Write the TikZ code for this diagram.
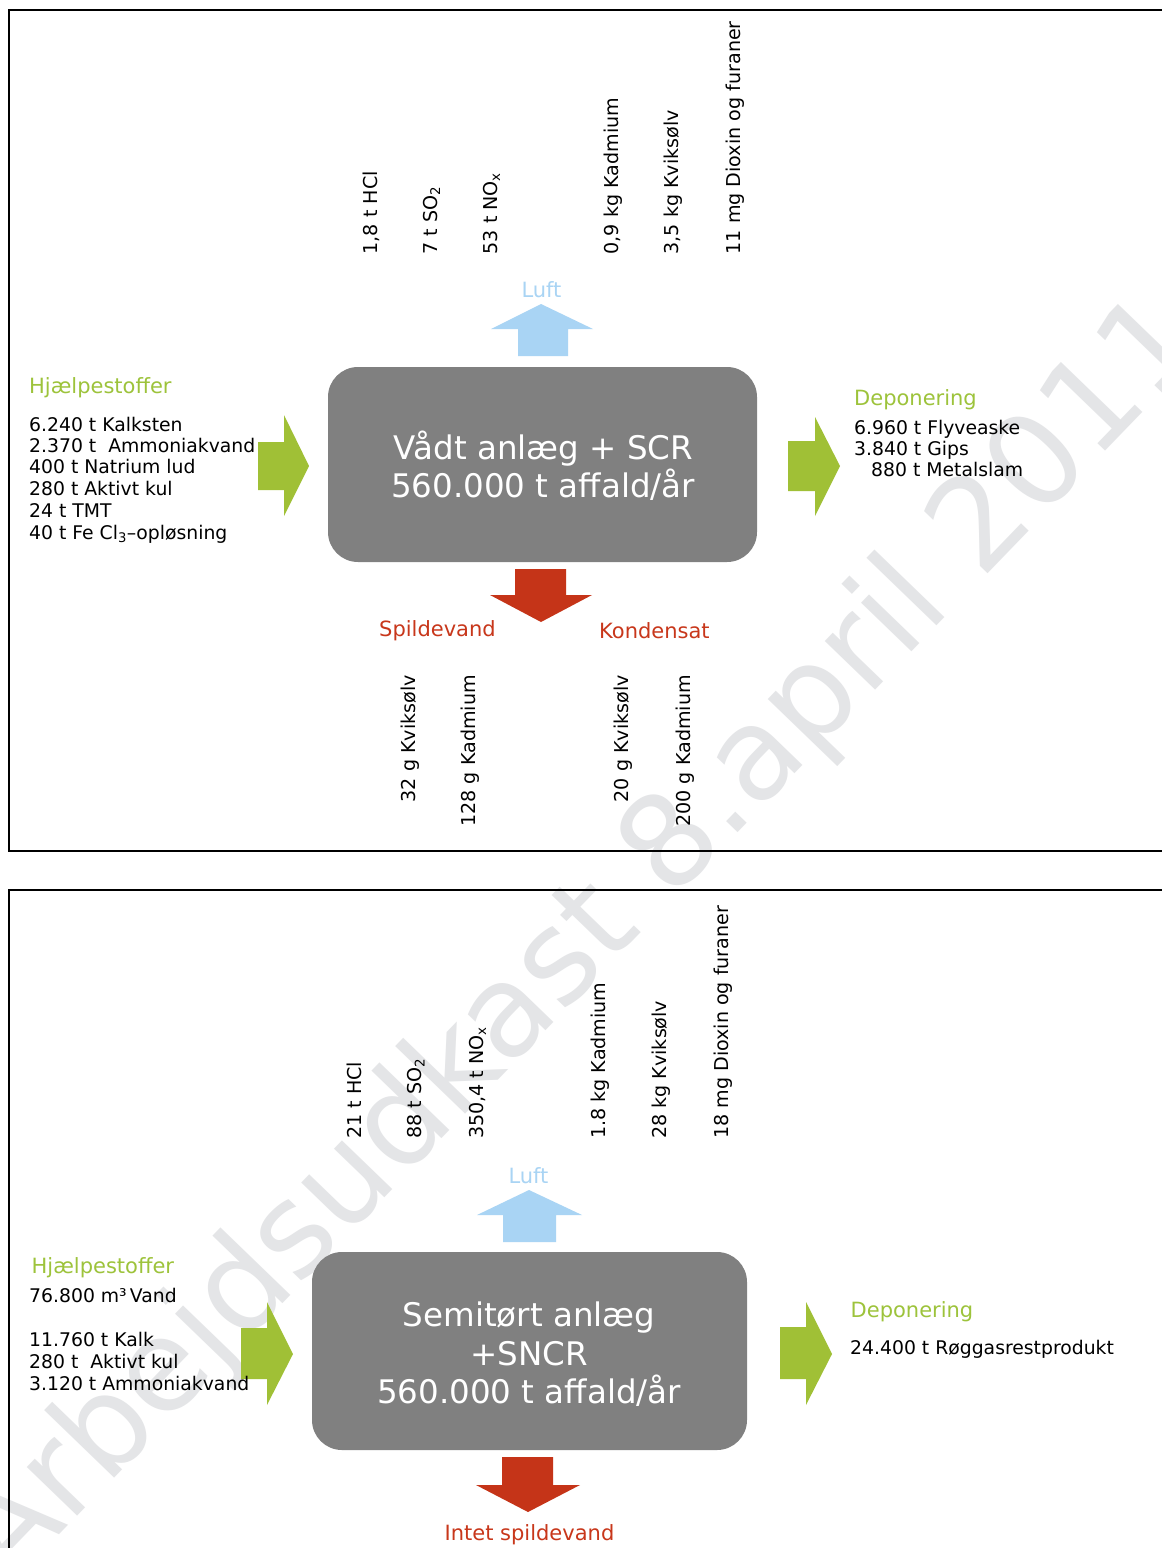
\documentclass[tikz,border=0pt]{standalone}
\usepackage{fontspec}
\setmainfont{DejaVu Sans}
\definecolor{boxgray}{RGB}{128,128,128}
\definecolor{leafgreen}{RGB}{160,192,54}
\definecolor{headgreen}{RGB}{157,195,59}
\definecolor{skyblue}{RGB}{169,212,244}
\definecolor{brickred}{RGB}{197,52,24}
\definecolor{redtext}{RGB}{200,55,27}
\definecolor{wmgray}{RGB}{228,229,231}
\tikzset{
  heading/.style={font=\fontsize{21}{24}\selectfont, inner sep=0pt, anchor=base west},
  bodytext/.style={font=\fontsize{18.8}{22}\selectfont, inner sep=0pt, anchor=base west},
  vlabel/.style={font=\fontsize{19.1}{22}\selectfont, inner sep=0pt, rotate=90},
  boxtext/.style={font=\fontsize{32.5}{38}\selectfont, inner sep=0pt, anchor=base, text=white},
  procbox/.style={fill=boxgray, rounded corners=30pt, inner sep=0pt},
  frameline/.style={line width=1.3pt, black},
  wmark/.style={font=\fontsize{128}{140}\selectfont, text=wmgray, rotate=46, inner sep=0pt}
}
\begin{document}
\begin{tikzpicture}[x=1pt,y=-1pt]
\clip (0,0) rectangle (1162,1548);
\fill[white] (0,0) rectangle (1162,1548);
% watermark
\node[wmark] (wm) at (583,942) {Arbejdsudkast 8.april 2011};
% frames
\draw[frameline] (1170,10) -- (9,10) -- (9,851) -- (1170,851);
\draw[frameline] (1170,890) -- (9,890) -- (9,1560);

% ===== top panel =====
\node[procbox, minimum width=429pt, minimum height=195pt] (box1) at (542.5,464.5) {};
\node[boxtext] (box1a) at (543.5,459) {Vådt anlæg + SCR};
\node[boxtext] (box1b) at (543,497) {560.000 t affald/år};

\fill[leafgreen] (258,442) -- (284,442) -- (284,415) -- (309,466) -- (284,516) -- (284,490) -- (258,490) -- cycle;
\fill[leafgreen] (788,441) -- (815,441) -- (815,417) -- (840,466) -- (815,516) -- (815,491) -- (788,491) -- cycle;
\fill[skyblue] (518,356) -- (518,329) -- (491,329) -- (541,304) -- (593,329) -- (568,329) -- (568,356) -- cycle;
\fill[brickred] (515,569) -- (566,569) -- (566,595) -- (592,595) -- (541,622) -- (490,595) -- (515,595) -- cycle;

\node[heading, text=skyblue, anchor=base] (luft1) at (541.5,297) {Luft};
\node[heading, text=headgreen] (hj1) at (29,393) {Hjælpestoffer};
\node[bodytext] (h1a) at (29,431) {6.240 t Kalksten};
\node[bodytext] (h1b) at (29,452) {2.370 t \ Ammoniakvand};
\node[bodytext] (h1c) at (29,473.5) {400 t Natrium lud};
\node[bodytext] (h1d) at (29,495) {280 t Aktivt kul};
\node[bodytext] (h1e) at (29,517) {24 t TMT};
\node[bodytext] (h1f) at (29,539) {40 t Fe Cl\textsubscript{3}–opløsning};

\node[heading, text=headgreen] (dep1) at (854,405) {Deponering};
\node[bodytext] (d1a) at (854,434) {6.960 t Flyveaske};
\node[bodytext] (d1b) at (854,455) {3.840 t Gips};
\node[bodytext] (d1c) at (871,476) {880 t Metalslam};

\node[heading, text=redtext] (spv) at (379,636) {Spildevand};
\node[heading, text=redtext] (kon) at (599,638) {Kondensat};

\node[vlabel, anchor=base west] (a1) at (377.5,254.5) {1,8 t HCl};
\node[vlabel, anchor=base west] (a2) at (437,254.5) {7 t SO\textsubscript{2}};
\node[vlabel, anchor=base west] (a3) at (497,254.5) {53 t NO\textsubscript{x}};
\node[vlabel, anchor=base west] (a4) at (618,254.5) {0,9 kg Kadmium};
\node[vlabel, anchor=base west] (a5) at (678,254.5) {3,5 kg Kviksølv};
\node[vlabel, anchor=base west] (a6) at (740,254.5) {11 mg Dioxin og furaner};

\node[vlabel, anchor=base east] (w1) at (415,675) {32 g Kviksølv};
\node[vlabel, anchor=base east] (w2) at (475,675) {128 g Kadmium};
\node[vlabel, anchor=base east] (w3) at (628.5,675) {20 g Kviksølv};
\node[vlabel, anchor=base east] (w4) at (690,675) {200 g Kadmium};

% ===== bottom panel =====
\node[procbox, minimum width=435pt, minimum height=198pt] (box2) at (529.5,1351) {};
\node[boxtext] (box2a) at (529,1326) {Semitørt anlæg};
\node[boxtext] (box2b) at (529,1365) {+SNCR};
\node[boxtext] (box2c) at (529,1403) {560.000 t affald/år};

\fill[leafgreen] (241,1328) -- (267,1328) -- (267,1302) -- (293,1354) -- (267,1405) -- (267,1379) -- (241,1379) -- cycle;
\fill[leafgreen] (780,1327) -- (806,1327) -- (806,1302) -- (832,1354) -- (806,1405) -- (806,1379) -- (780,1379) -- cycle;
\fill[skyblue] (503,1242) -- (503,1215) -- (477,1215) -- (529,1190) -- (582,1215) -- (556,1215) -- (556,1242) -- cycle;
\fill[brickred] (502,1457) -- (553,1457) -- (553,1485) -- (580,1485) -- (528,1512) -- (476,1485) -- (502,1485) -- cycle;

\node[heading, text=skyblue, anchor=base] (luft2) at (528.5,1183) {Luft};
\node[heading, text=headgreen] (hj2) at (31.5,1273) {Hjælpestoffer};
\node[bodytext] (h2a) at (29,1302.5) {76.800 m³\,Vand};
\node[bodytext] (h2b) at (29,1346.5) {11.760 t Kalk};
\node[bodytext] (h2c) at (29,1368.5) {280 t \ Aktivt kul};
\node[bodytext] (h2d) at (29,1390.5) {3.120 t Ammoniakvand};

\node[heading, text=headgreen] (dep2) at (850.5,1317) {Deponering};
\node[bodytext] (d2a) at (850,1354) {24.400 t Røggasrestprodukt};

\node[heading, text=redtext, anchor=base] (isv) at (529.5,1540) {Intet spildevand};

\node[vlabel, anchor=base west] (b1) at (361.5,1139) {21 t HCl};
\node[vlabel, anchor=base west] (b2) at (421.5,1139) {88 t SO\textsubscript{2}};
\node[vlabel, anchor=base west] (b3) at (483,1139) {350,4 t NO\textsubscript{x}};
\node[vlabel, anchor=base west] (b4) at (605,1139) {1.8 kg Kadmium};
\node[vlabel, anchor=base west] (b5) at (666.5,1139) {28 kg Kviksølv};
\node[vlabel, anchor=base west] (b6) at (728,1139) {18 mg Dioxin og furaner};
\end{tikzpicture}
\end{document}
